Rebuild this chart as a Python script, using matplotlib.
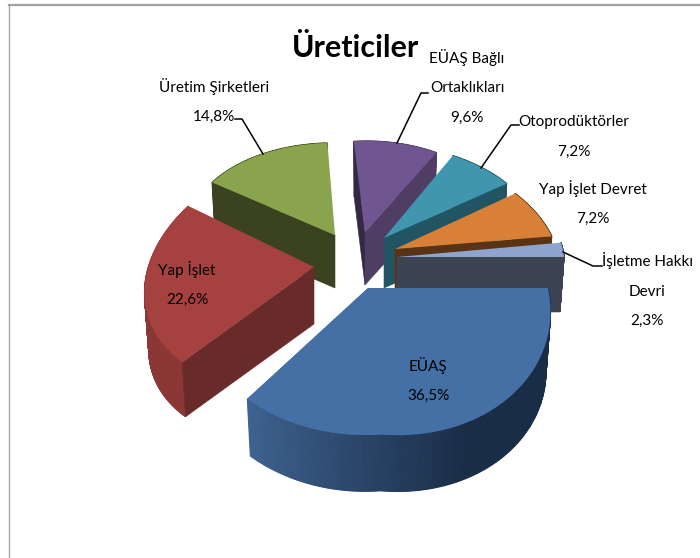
import numpy as np
import matplotlib
matplotlib.use('Agg')
import matplotlib.pyplot as plt
from matplotlib.colors import to_rgb
from matplotlib.transforms import Affine2D

plt.rcParams['font.family'] = ['Lato', 'DejaVu Sans']

# data, clockwise from the right hand corner of the big slice
names = ['EÜAŞ', 'Yap İşlet', 'Üretim Şirketleri', 'EÜAŞ Bağlı\nOrtaklıkları',
         'Otoprodüktörler', 'Yap İşlet Devret', 'İşletme Hakkı\nDevri']
values = [36.5, 22.6, 14.8, 9.6, 7.2, 7.2, 2.3]
top_colors = ['#4470a6', '#a5423f', '#8aa34d', '#6f5690', '#3f96ae', '#d98038', '#8ea4cf']
cut_colors = ['#1a2d47', '#692a2a', '#3a421f', '#4f3d63', '#215564', '#5a3214', '#3c4454']
rim_light = ['#3e6390', '#9d403d', '#3a421f', '#4f3d63', '#215564', '#5a3214', '#3c4454']
rim_dark = ['#1a2d47', '#8a3736', '#3a421f', '#4f3d63', '#215564', '#5a3214', '#3c4454']

# how each flat slice sits in the picture: apex x, apex y, a, b, c, d, depth
placement = [
    (368, 288, 180, 147, 3, 0, 60),
    (314, 267, 167, 122, 29, -5, 57),
    (335, 235, 148, 92, 4, 4, 53),
    (365, 232, 143, 91, 0, -1, 53),
    (384, 238, 155, 94, -10, -2, 50),
    (395, 249, 162, 102, -25, 2, 50),
    (397, 257, 167, 100, -10, 0, 55),
]
draw_order = [2, 1, 3, 4, 5, 6, 0]

# label centres and leader lines, in picture pixels
label_pos = [(428, 380), (187, 284), (214, 101), (467, 87), (574, 137), (593, 203), (647, 290)]
leaders = [
    [(235, 119), (242, 119), (263, 154)],
    [(428, 93), (421, 93), (397, 143)],
    [(519, 125), (511, 125), (481, 168)],
    [(602, 266), (593, 266), (563, 252)],
]

fig = plt.figure(figsize=(7, 5.58), dpi=100)
ax = fig.add_axes([0, 0, 1, 1])
wedges, _ = ax.pie(values, startangle=0, counterclock=False, colors=top_colors,
                   wedgeprops={'linewidth': 0})
ax.set_aspect('auto')
ax.set_xlim(0, 700)
ax.set_ylim(558, 0)
ax.axis('off')


def bulge(t):
    # the front right of the big slice swells towards the viewer
    u = np.clip(-np.degrees(t) / 85, 0, 1)
    return 1 + 0.09 * np.sin(np.pi * u)


def project(place, t, shrink=1.0):
    x0, y0, a, b, c, d, _ = place
    return (x0 + shrink * (a * np.cos(t) + c * np.sin(t)),
            y0 + shrink * (-b * np.sin(t) + d * np.cos(t)))


for rank, i in enumerate(draw_order):
    w = wedges[i]
    p = placement[i]
    x0, y0, a, b, c, d, depth = p
    z = 10 + rank * 5
    w.set_transform(Affine2D.from_values(a, d, c, -b, x0, y0) + ax.transData)
    w.set_zorder(z + 3)
    ts = np.radians(np.linspace(w.theta1, w.theta2, 160))
    scale = bulge(ts) if i == 0 else 1.0
    # rim, a strip per step so the shading can run along it
    lt, dk = np.array(to_rgb(rim_light[i])), np.array(to_rgb(rim_dark[i]))
    xt, yt = project(p, ts, scale)
    xb, yb = project(p, ts, 0.975 * scale)
    yb = yb + depth
    for k in range(len(ts) - 1):
        f = min(1, k / (len(ts) * 0.55))
        col = lt + (dk - lt) * f
        ax.fill([xt[k], xt[k + 1], xb[k + 1], xb[k]], [yt[k], yt[k + 1], yb[k + 1], yb[k]],
                color=col, linewidth=0.8, zorder=z)
    # cut faces that can be seen from the front
    if i in (1, 2):
        faces = [(ts[-1], cut_colors[i])]
    elif i == 3:
        faces = [(ts[-1], '#332845'), (ts[0], cut_colors[i])]
    elif i == 0:
        faces = []
    else:
        faces = [(ts[0], cut_colors[i])]
    for t, col in faces:
        xe, ye = project(p, t)
        xf, yf = project(p, t, 0.975)
        ax.fill([x0, xe, xf, x0], [y0, ye, yf + depth, y0 + depth], color=col,
                linewidth=0.4, zorder=z + 1)
    if i == 0:
        ax.fill(np.r_[x0, xt], np.r_[y0, yt], color=top_colors[i], linewidth=0, zorder=z + 4)

for i, name in enumerate(names):
    txt = f'{name}\n{values[i]:.1f}%'.replace('.', ',')
    ax.text(label_pos[i][0], label_pos[i][1], txt, ha='center', va='center', fontsize=11,
            linespacing=2.4, color='black', zorder=60)

for line in leaders:
    xs, ys = zip(*line)
    ax.plot(xs, ys, color='black', linewidth=1.1, zorder=55)

ax.text(356, 48, 'Üreticiler', ha='center', va='center', fontsize=22, fontweight='bold', zorder=60)

# outer frame of the chart
ax.plot([9, 9], [558, 5], color='#a8a8a8', linewidth=1, zorder=1)
ax.plot([9, 700], [5, 5], color='#a0a0a0', linewidth=1.6, zorder=1)

fig.savefig('out.png', dpi=100)
